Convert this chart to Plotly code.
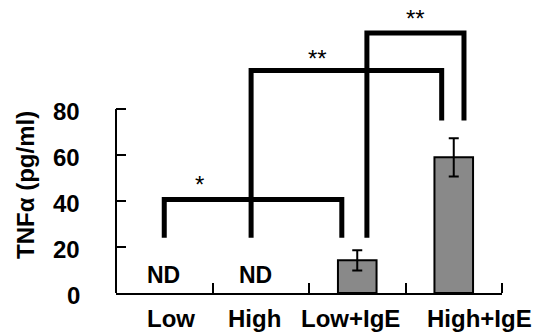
import plotly.graph_objects as go

# ---- data ----
categories = ["Low", "High", "Low+IgE", "High+IgE"]
means = [None, None, 14.2, 59.0]
sem = [None, None, 4.4, 8.3]
nd_labels = ["ND", "ND", "", ""]
y_ticks = [0, 20, 40, 60, 80]
y_tick_labels = ["0", "20", "40", "60", "80"]

# significance brackets: between categories, bar height, foot heights, label
br_from = [0, 1, 2]
br_to = [2, 3, 3]
br_top = [40.7, 96.7, 113.0]
br_foot_left = [24.0, 24.0, 24.0]
br_foot_right = [24.0, 75.0, 75.0]
br_labels = ["*", "**", "**"]

# ---- styling / layout constants ----
leg_offsets = [(0.0, -0.16), (-0.1, -0.125), (0.1, 0.106)]
star_pos = [(0.37, 47.0), (1.593, 101.8), (2.60, 119.2)]
label_xshift = [7, -6, -7, 26]
nd_xshift = [-1, -5, 0, 0]
FONT = "Liberation Sans, Arial, sans-serif"
W, H = 539, 333
ML, MR, MT, MB = 116, 37, 0, 40
y_top = 293 / 2.3

x_idx = list(range(len(categories)))

fig = go.Figure()
fig.add_trace(go.Bar(
    x=x_idx, y=means, width=0.4,
    marker=dict(color="#898989", line=dict(color="black", width=2)),
    error_y=dict(type="data", array=sem, visible=True, color="black",
                 thickness=2, width=5),
    showlegend=False, hoverinfo="skip",
))

shapes = []
# y axis line only up to 80
shapes.append(dict(type="line", xref="paper", yref="y", x0=0, x1=0,
                   y0=0, y1=max(y_ticks), line=dict(color="black", width=2)))
for i in range(len(br_from)):
    xl = br_from[i] + leg_offsets[i][0]
    xr = br_to[i] + leg_offsets[i][1]
    path = (f"M {xl},{br_foot_left[i]} L {xl},{br_top[i]} "
            f"L {xr},{br_top[i]} L {xr},{br_foot_right[i]}")
    shapes.append(dict(type="path", xref="x", yref="y", path=path,
                       line=dict(color="black", width=5)))

annotations = []
for i, lab in enumerate(br_labels):
    annotations.append(dict(x=star_pos[i][0], y=star_pos[i][1], xref="x", yref="y",
                            text=lab, showarrow=False, xanchor="center", yanchor="middle",
                            font=dict(family=FONT, size=24, color="black")))
for i, lab in enumerate(nd_labels):
    if lab:
        annotations.append(dict(x=i, y=7.8, xref="x", yref="y", text=lab,
                                showarrow=False, xshift=nd_xshift[i],
                                xanchor="center", yanchor="middle",
                                font=dict(family=FONT, size=23, color="black", weight="bold")))
for i, lab in enumerate(categories):
    annotations.append(dict(x=i, y=0, xref="x", yref="paper", text=lab,
                            showarrow=False, xshift=label_xshift[i], yshift=-10,
                            xanchor="center", yanchor="top",
                            font=dict(family=FONT, size=24, color="black", weight="bold")))
for v, lab in zip(y_ticks, y_tick_labels):
    annotations.append(dict(x=0, y=v, xref="paper", yref="y", text=lab,
                            showarrow=False, xshift=-34, yshift=-2,
                            xanchor="right", yanchor="middle",
                            font=dict(family=FONT, size=24, color="black", weight="bold")))
annotations.append(dict(x=0, y=47, xref="paper", yref="y", text="TNFα (pg/ml)",
                        showarrow=False, textangle=-90, xshift=-90,
                        xanchor="center", yanchor="middle",
                        font=dict(family=FONT, size=24, color="black", weight="bold")))

fig.update_layout(
    width=W, height=H,
    margin=dict(l=ML, r=MR, t=MT, b=MB, pad=0),
    paper_bgcolor="white", plot_bgcolor="white",
    shapes=shapes, annotations=annotations, hovermode=False,
    xaxis=dict(range=[-0.5, len(categories) - 0.5], showgrid=False, zeroline=False,
               showline=True, linecolor="black", linewidth=2, automargin=False,
               tickvals=x_idx, ticktext=[""] * len(categories), ticks="",
               minor=dict(tick0=0.5, dtick=1, ticks="inside", ticklen=10,
                          tickwidth=2, tickcolor="black", showgrid=False)),
    yaxis=dict(range=[0, y_top], showgrid=False, zeroline=False, showline=False,
               automargin=False, showticklabels=False,
               tickvals=y_ticks, ticks="inside", ticklen=10, tickwidth=2,
               tickcolor="black"),
)

# remove the browser's default 8px body margin so the figure fills the window
fig.write_html("out.html", config={"displayModeBar": False},
               post_script="document.body.style.margin='0';")
